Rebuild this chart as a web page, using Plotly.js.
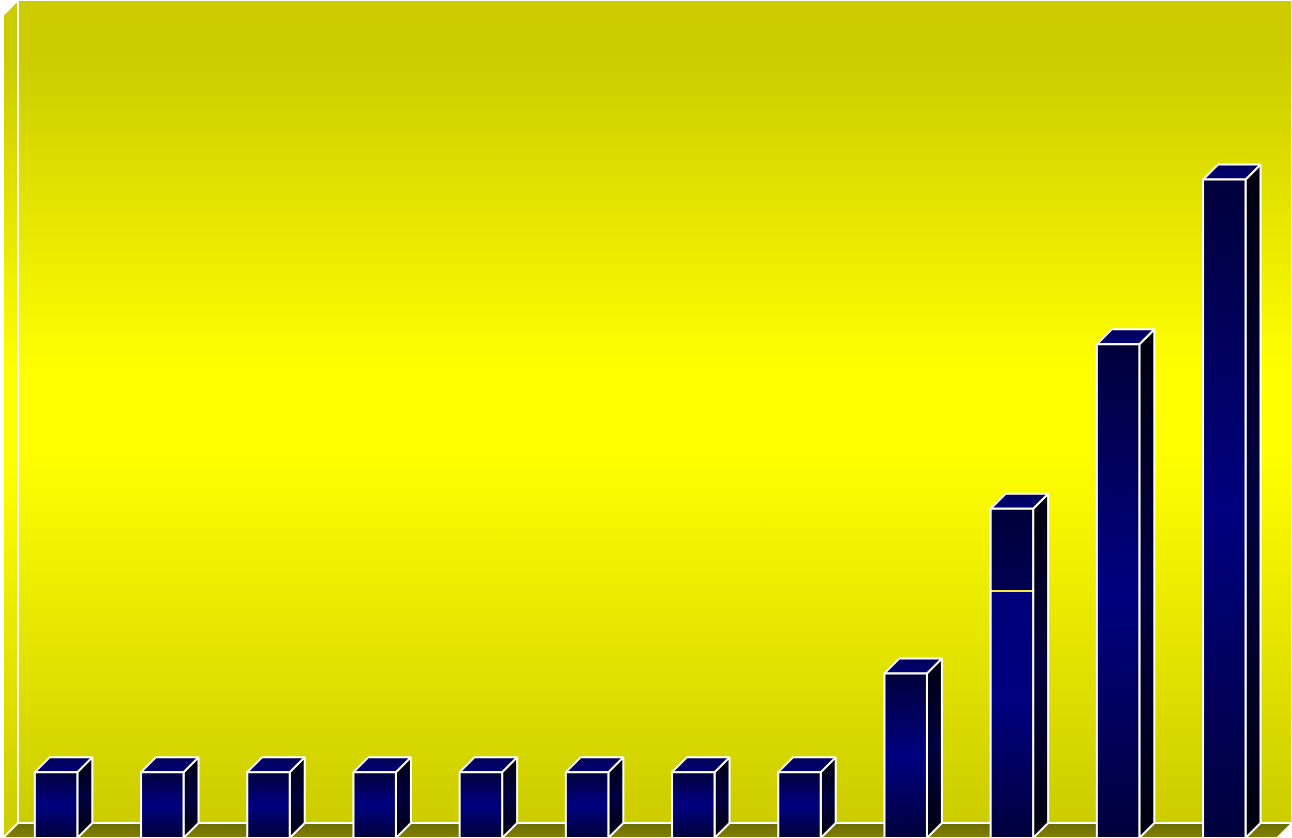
<!DOCTYPE html>
<html>
<head>
<meta charset="utf-8">
<script src="https://cdn.plot.ly/plotly-3.0.1.min.js"></script>
<style>html,body{margin:0;padding:0;background:#fff;}#chart{width:1292px;height:838px;}</style>
</head>
<body>
<div id="chart"></div>
<script>
// ---- data ----
const categories = [1, 2, 3, 4, 5, 6, 7, 8, 9, 10, 11, 12];
const baseValues = [0.8, 0.8, 0.8, 0.8, 0.8, 0.8, 0.8, 0.8, 2, 3, 6, 8];
const upperValues = [0, 0, 0, 0, 0, 0, 0, 0, 0, 1, 0, 0];
const axisMax = 10;

// ---- 3D geometry (in axis units) ----
const DX = 0.1412, DY = 0.1823, HW = 0.2;
const X0 = -0.5, X1 = categories.length - 0.5;

const traces = [];
function poly(xs, ys, grad, lineColor, lineWidth) {
  traces.push({
    type: 'scatter', mode: 'lines', x: xs.concat([xs[0]]), y: ys.concat([ys[0]]),
    fill: 'toself', fillgradient: grad,
    line: {color: lineColor || '#ffffff', width: lineWidth === undefined ? 2 : lineWidth},
    hoverinfo: 'skip', showlegend: false
  });
}
const wallGrad = {type: 'vertical', colorscale: [[0, '#cccc00'], [0.45, '#ffff00'], [0.55, '#ffff00'], [0.93, '#cccc00'], [1, '#cccc00']]};

// back wall
poly([X0 + DX, X1 + DX, X1 + DX, X0 + DX], [DY, DY, axisMax + DY, axisMax + DY], wallGrad, '#ffffff', 2);
// left wall
poly([X0, X0, X0 + DX, X0 + DX], [0, axisMax, axisMax + DY, DY], wallGrad, '#ffffff', 2);
// floor
poly([X0, X1, X1 + DX, X0 + DX], [0, 0, DY, DY],
  {type: 'vertical', colorscale: [[0, '#808000'], [1, '#6c6c00']]}, '#ffffff', 2);

const frontGrad = {type: 'vertical', colorscale: [[0, '#00003c'], [0.5, '#000080'], [1, '#00003c']]};
const sideGrad = {type: 'vertical', colorscale: [[0, '#00000e'], [0.5, '#000040'], [1, '#00000e']]};
const topGrad = {type: 'vertical', colorscale: [[0, '#000074'], [1, '#000058']]};

categories.forEach((c, i) => {
  const xc = i;
  const total = baseValues[i] + upperValues[i];
  const l = xc - HW, r = xc + HW;
  // side face
  poly([r, r, r + DX, r + DX], [0, total, total + DY, DY], sideGrad);
  // top face
  poly([l, r, r + DX, l + DX], [total, total, total + DY, total + DY], topGrad);
  // front face(s)
  if (upperValues[i] > 0) {
    poly([l, r, r, l], [0, 0, baseValues[i], baseValues[i]],
      {type: 'vertical', colorscale: [[0, '#00003c'], [0.55, '#000080'], [1, '#00007a']]});
    poly([l, r, r, l], [baseValues[i], baseValues[i], total, total],
      {type: 'vertical', colorscale: [[0, '#000052'], [1, '#00003a']]});
    traces.push({type: 'scatter', mode: 'lines', x: [l + 0.01, r - 0.01], y: [baseValues[i], baseValues[i]],
      line: {color: '#f0e000', width: 1.5}, hoverinfo: 'skip', showlegend: false});
  } else {
    poly([l, r, r, l], [0, 0, total, total], frontGrad);
  }
});

const layout = {
  width: 1292, height: 838,
  margin: {l: 0, r: 0, t: 0, b: 0, pad: 0},
  paper_bgcolor: '#ffffff', plot_bgcolor: '#ffffff',
  showlegend: false, hovermode: false,
  xaxis: {range: [X0 - 0.0282, X1 + 0.1375], visible: false, fixedrange: true},
  yaxis: {range: [0, axisMax + 0.182], visible: false, fixedrange: true}
};
Plotly.newPlot('chart', traces, layout, {displayModeBar: false, staticPlot: true});
</script>
</body>
</html>
